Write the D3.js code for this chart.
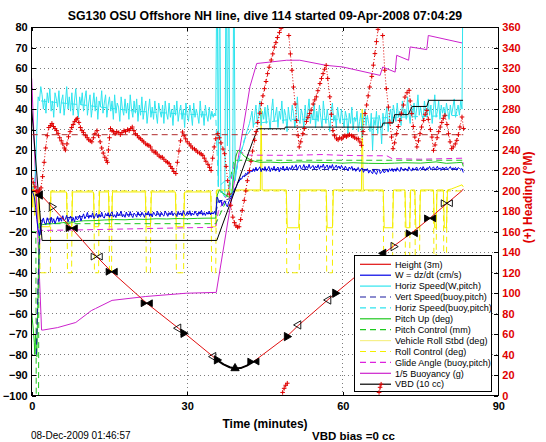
<!DOCTYPE html>
<html><head><meta charset="utf-8">
<script src="https://cdn.jsdelivr.net/npm/d3@7"></script>
<style>
body{margin:0;background:#fff}
svg{display:block}
text{font-family:"Liberation Sans",Arial,Helvetica,sans-serif}
</style>
</head><body>
<svg id="c" width="546" height="442"></svg>
<script>
// ---------------- DATA ----------------
const titleText = "SG130 OSU Offshore NH line, dive 114 started 09-Apr-2008 07:04:29";
const xLabelText = "Time (minutes)";
const rightLabelText = "(+) Heading (\u00B0M)";
const dateText = "08-Dec-2009 01:46:57";
const biasText = "VBD bias =0 cc";

const timeTicks = [0, 30, 60, 90];
const leftTicks = [-100,-90,-80,-70,-60,-50,-40,-30,-20,-10,0,10,20,30,40,50,60,70,80];
const headingTicks = [0,20,40,60,80,100,120,140,160,180,200,220,240,260,280,300,320,340,360];

const legendLabels = ["Height (3m)","W = dz/dt (cm/s)","Horiz Speed(W,pitch)","Vert Speed(buoy,pitch)",
  "Horiz Speed(buoy,pitch)","Pitch Up (deg)","Pitch Control (mm)","Vehicle Roll Stbd (deg)",
  "Roll Control (deg)","Glide Angle (buoy,pitch)","1/5 Buoyancy (g)","VBD (10 cc)"];

// sampled every 0.25 min
const sampleStep = 0.25;
const horizSpeedW = [
 2,1,3,10,30,46,44,51,47,40,45,38,48,43,50,39,44,36,48,45,
 41,49,38,44,47,37,43,51,40,46,39,48,37,44,50,41,36,46,42,48,
 39,45,49,37,43,47,36,42,48,39,46,35,44,41,49,38,43,47,36,42,
 46,39,44,35,47,38,43,41,34,46,40,37,45,38,43,35,47,40,36,44,
 38,45,34,42,37,46,35,40,44,33,39,45,36,41,35,44,38,33,43,39,
 36,42,33,44,38,35,43,36,40,32,42,37,44,34,39,42,35,40,31,43,
 37,34,42,38,32,43,36,40,37,33,44,36,39,32,42,37,34,41,35,39,
 36,38,37,120,2,120,-1,0,-2,-3,120,22,120,-2,-3,0,120,5,10,14,
 16,18,20,22,24,27,29,31,33,36,39,31,37,42,33,38,44,32,39,35,
 41,33,42,36,30,39,45,34,37,41,31,39,35,44,33,40,37,29,41,35,
 34,42,38,31,37,46,35,33,40,37,30,42,34,39,45,33,38,35,43,31,
 39,34,42,36,31,44,37,33,40,35,29,39,43,34,37,31,41,36,33,40,
 35,31,39,36,28,38,33,41,30,36,34,39,29,34,38,26,35,40,32,37,
 33,29,38,20,35,32,39,28,37,34,23,38,32,36,41,29,37,40,33,42,
 38,34,43,36,39,32,44,37,40,35,46,38,33,42,37,43,35,40,47,37,
 41,37,35,44,39,36,45,37,42,33,40,47,36,39,44,35,42,38,41,36,
 43,39,35,42,37,41,45,36,39,42,37,44,40,130];

const wSpeed = [
 0,-1,-3,-8,-14,-19,-22,-17,-15.5,-13.2,-15.8,-16.4,-13.1,-14.9,-16.2,-12.8,-15.5,-13.6,-16,-14.2,
 -12.5,-15,-13.2,-14.8,-12.1,-14.6,-13.8,-11.9,-15.1,-13.4,-12.3,-14.9,-13,-15.2,-12.4,-14.1,-13.6,-11.8,-14.7,-12.9,
 -11.2,-13.6,-12.4,-10.5,-13.4,-11.8,-12.9,-10.7,-13.5,-12.1,-10.9,-13.2,-11.4,-12.8,-10.4,-12.6,-13.3,-11,-12.2,-10.6,
 -12.9,-11.1,-10.2,-12.8,-11.6,-13,-10.4,-12.2,-11.3,-9.9,-12.7,-11.5,-12.9,-10.3,-11.8,-12.6,-10.1,-11.9,-13,-10.8,
 -11.6,-12.8,-10.2,-11.9,-12.5,-10.4,-11.3,-12.9,-10.7,-11.8,-10,-12.4,-11.2,-12.7,-10.3,-11.6,-12.2,-9.9,-11.5,-12.6,
 -10.4,-11.7,-12.3,-9.8,-11.2,-12.4,-10.6,-11.5,-9.9,-12.1,-10.8,-11.3,-12.5,-10,-11.6,-10.7,-12.2,-9.6,-11.4,-12,
 -10.2,-11.5,-9.7,-12.1,-10.9,-11.8,-9.8,-11.2,-12.3,-10.1,-11,-9.5,-11.9,-10.6,-12,-10.3,-11.4,-9.9,-11.7,-10.5,
 -11.3,-10,-11.6,-3,-4.2,-5.8,-4.5,-7.2,-6.1,-4.8,-6.6,-7.8,-5.4,-4.1,-3.2,-1.6,-0.8,1.2,2.3,4.1,
 4.6,6.2,5.8,7.4,7,8.6,8.1,9.4,8.7,10.2,9.3,10.9,9.5,11.6,9.8,10.7,11.8,9.4,11.2,10.1,
 11.9,9.6,10.8,12,9.4,11.3,10.2,12.1,9.7,10.9,11.7,9.3,11.4,10.5,12.2,9.8,10.6,11.9,10.1,11.5,
 10.3,12.4,10.9,11.5,12.8,10.2,11.9,12.6,10.6,11.3,12.9,10.8,12.2,11,13,10.9,11.7,12.5,10.7,12.1,
 11.2,12.8,10.6,12.3,11.5,13.1,10.9,11.8,12.7,10.5,12.4,11.1,12.9,10.8,11.6,12.6,11,12.2,10.7,12.5,
 11.3,10.4,12.1,11,9.8,11.7,10.6,12,10.1,11.2,9.6,10.9,11.5,9.4,10.7,11.2,9.1,10.5,9.8,10.9,
 8.7,10.2,9.3,8.4,10.5,9,8.1,9.9,10.6,8.5,9.4,10.3,8.8,9.6,10.7,9.2,10.9,9.7,11,9.4,
 10.8,9.6,11.4,10.2,9.5,11.6,10.3,9.9,11.1,10.5,9.7,11.8,10.4,9.8,11.3,10.1,10.9,11.7,9.9,10.6,
 11.5,10.2,11.9,10.6,9.9,11.4,10.8,12,10.3,11.1,11.8,10.4,10.9,12.1,10.5,11.3,10.1,11.7,10.8,11.2,
 11.6,10.3,11.1,11.9,10.4,11.3,10.8,11.5,10.2,11.4,11,10.6,10.9,9];

// [minutes, value] vertex lists
const heightPts = [[0,0.5],[1.2,0],[1.6,-1.5],[3.9,-7.7],[7.7,-18.2],[12.5,-32],[15.4,-39.5],[22.2,-54.9],
  [28.3,-67.1],[35,-81],[35.7,-82.6],[37,-84.8],[38.2,-86.2],[39.2,-86.8],[40.3,-86.6],[41.5,-85.4],[42.8,-83.4],
  [49.2,-71.2],[51.4,-65.8],[58.5,-50.2],[67.8,-30.6],[69.8,-27],[73.3,-20.5],[76.8,-13.3],[80.1,-6.1],[83,0.1],[83.25,1]];
const apogeePts = [[35.7,-82.6],[37,-84.8],[38.2,-86.2],[39.2,-86.8],[40.3,-86.6],[41.5,-85.4],[42.8,-83.4]];

// GC markers on the height trace: [minutes, value, shape, filled]
const gcMarkers = [[1.6,-2.0,"L",1],[3.86,-7.7,"R",0],[7.72,-18.2,"B",1],[12.54,-32.1,"B",0],[15.43,-39.5,"B",1],
  [22.19,-54.9,"B",1],[28.29,-67.1,"L",0],[29.25,-69.6,"R",1],[35.04,-81.0,"L",0],[35.69,-82.6,"R",1],
  [39.22,-86.7,"U",1],[42.76,-83.4,"B",1],[49.2,-71.2,"R",1],[51.44,-65.5,"L",0],[57.23,-53.3,"L",0],
  [58.52,-50.0,"R",1],[67.84,-30.5,"L",1],[69.77,-27.2,"R",0],[73.32,-20.7,"B",1],[76.85,-13.4,"B",1],[80.07,-6.0,"B",0]];

const vertSpeedBuoy = [[0.9,-80],[1.2,-50],[1.5,-25],[1.8,-15],[2,-14],[10,-12.5],[20,-11.5],[35.5,-11],[36,-5],[38,-4],[39,0],[40,5],[42,9],[43,10.5],[83.25,10.5]];
const horizSpeedBuoy = [[1.8,44],[10,42],[20,39],[30,37.5],[35.5,37],[36,2],[39.5,10],[41,25],[43,33],[50,35],[60,35],[70,36],[83,37]];

const pitchUp = [[0,-60],[0.25,-66],[0.5,-74],[0.6,-80],[0.75,-70],[0.9,-78],[1.0,-81],[1.1,-65],[1.3,-40],[1.5,-22],
  [1.75,-17],[2,-16.5],[3,-16.2],[4,-16],[5,-15.8],[6,-15.5],[7,-15.2],[8,-15.3],[9,-14.8],[10,-14.6],[12,-14.5],
  [14,-14.2],[16,-14],[18,-14.1],[20,-13.8],[22,-13.9],[24,-13.6],[26,-13.7],[28,-13.5],[30,-13.6],[32,-13.4],
  [34,-13.3],[35.5,-13.3],[35.8,-2],[36.2,0.5],[36.8,-1],[37.4,-2],[38,-3],[38.6,-1],[39,8],[39.4,17],[39.8,20],
  [40.3,19],[41,17],[42,15.5],[43,14.5],[44,14],[46,14.1],[48,13.8],[50,14],[52,14.2],[55,14],[58,13.8],[60,13.6],
  [62,13.8],[65,13.5],[68,13.4],[70,13.6],[72,13.8],[75,13.6],[78,14.2],[80,13.5],[82,13.8],[83,14],[83.25,12]];
const pitchControl = [[0,-20],[0.8,-20],[0.9,-130],[1.3,-130],[1.4,-16],[35.5,-16],[37.5,-5],[39,15],[83.25,15]];

const rollStbd = [[0,4],[0.2,-8],[0.4,3],[0.6,-12],[0.8,0],[1.0,-6],[1.2,-16],[1.4,-2],[1.6,-17.5],[3.5,-17.5],
  [3.7,-0.5],[6.7,-0.5],[6.9,-17.5],[7.7,-17.5],[7.9,-0.5],[11.9,-0.5],[12.1,-17.5],[12.9,-17.5],[13.1,-0.5],
  [14.8,-0.5],[15,-17.5],[15.4,-17.5],[15.6,-0.5],[21.9,-0.5],[22.1,-17.5],[22.9,-17.5],[23.1,-0.5],[27.7,-0.5],
  [27.9,-17.5],[29.3,-17.5],[29.5,-0.5],[34.5,-0.5],[34.7,-17.5],[35.5,-17.5],[35.7,0.5],[44.1,0.5],[44.25,40],
  [44.45,0.5],[49.1,0.5],[49.3,-18],[51.5,-18],[51.7,0.5],[56.8,0.5],[57,-18],[58,-18],[58.2,0.5],[63.6,0.5],
  [63.75,40],[63.95,0.5],[67.8,0.5],[68,-18],[69.6,-18],[69.8,0.5],[72,0.5],[72.2,-18],[72.9,-18],[73.1,0.5],
  [73.9,0.5],[74.1,-18],[74.8,-18],[75,0.5],[77.5,0.5],[77.7,-18],[78,-18],[78.2,0.5],[79.4,0.5],[79.6,-18],
  [80,-18],[80.2,0.5],[81,1],[82,2],[83,3],[83.25,2]];
const rollControl = [[0,0],[1.5,0],[1.6,-40],[3.6,-40],[3.7,0],[6.8,0],[6.9,-40],[7.7,-40],[7.8,0],[12,0],[12.1,-40],
  [12.9,-40],[13,0],[14.9,0],[15,-40],[15.4,-40],[15.5,0],[22,0],[22.1,-40],[22.9,-40],[23,0],[27.8,0],[27.9,-40],
  [29.3,-40],[29.4,0],[34.6,0],[34.7,-40],[35.5,-40],[35.6,0],[49.1,0],[49.2,-40],[51.6,-40],[51.7,0],[56.8,0],
  [56.9,-40],[58,-40],[58.1,0],[67.8,0],[67.9,-40],[69.6,-40],[69.7,0],[72,0],[72.1,-40],[72.9,-40],[73,0],[73.9,0],
  [74,-40],[74.8,-40],[74.9,0],[77.5,0],[77.6,-40],[78,-40],[78.1,0],[79.4,0],[79.5,-40],[80,-40],[80.1,0],[83.25,0]];

const glideAngle = [[0.9,-80],[1.1,-55],[1.4,-30],[1.7,-20],[2,-19.3],[10,-19],[20,-18.5],[30,-18],[35.5,-17.8],
  [36,-10],[37,-5],[38,0],[39,12],[39.5,19],[40,20],[41,18],[42,17.5],[50,17.4],[56,17.8],[60,17.4],[65,17.2],
  [68.5,17.2],[69.5,15.8],[75,15.5],[80,15.8],[83,16],[83.25,13]];
const buoyancy = [[0,55],[1.9,-68],[2.2,-68],[5,-66.8],[8.5,-64.3],[11.5,-58.5],[12.3,-57.5],[15.5,-53.5],[22,-51.6],
  [29.8,-50],[35.6,-49.6],[42.1,51],[43.4,62.3],[49.2,63.9],[51.7,63.9],[56.8,61.4],[60,60.6],[67.2,56.5],[67.7,60.6],
  [70.1,58.1],[70.4,66.3],[72.7,63.9],[73,70.4],[76.2,69.1],[76.5,76],[83.1,72.3]];
const vbd = [[0,40],[1.9,-21],[2,-24.2],[35.7,-24.2],[42.6,24],[43.6,30.4],[48.8,30.4],[48.9,31.2],[67.5,31.2],
  [67.8,33.2],[69.7,33.2],[70,37.3],[72.6,37.3],[73.4,41.3],[76.2,41.3],[76.6,44.3],[83.2,44.3]];

// heading (degrees magnetic), right axis
const heading = [[0,212],[0.3,208],[0.6,204],[0.9,200],[1.2,199],[1.5,201],[1.8,203],[2.1,214],[2.4,228],[2.7,242],
 [3.0,254],[3.3,262],[3.6,264],[3.9,266],[4.2,263],[4.5,261],[4.8,259],[5.1,256],[5.4,252],[5.7,249],[6.0,246],
 [6.3,242],[6.5,240],[6.8,246],[7.1,253],[7.4,258],[7.7,262],[8.0,265],[8.3,268],[8.6,270],[8.8,271],[9.1,267],
 [9.4,262],[9.7,259],[10.0,257],[10.4,254],[10.7,252],[11.0,250],[11.3,249],[11.6,248],[11.9,252],[12.2,256],
 [12.6,259],[12.9,254],[13.2,248],[13.5,242],[13.8,237],[14.1,233],[14.4,230],[14.6,228],[14.8,240],[15.0,252],
 [15.2,261],[15.5,259],[15.8,258],[16.1,256],[16.4,258],[16.8,257],[17.1,255],[17.4,257],[17.8,259],[18.1,258],
 [18.5,260],[18.8,259],[19.1,261],[19.4,262.5],[19.7,259],[20.0,256],[20.4,254],[20.7,252],[21.0,251],[21.3,249.5],
 [21.6,248],[22.0,246],[22.3,245],[22.6,244.6],[22.9,243],[23.2,240],[23.6,238],[23.9,238],[24.2,236],[24.6,234],
 [24.9,233],[25.2,233],[25.5,231],[25.9,229],[26.2,228],[26.5,226.7],[26.8,224],[27.1,222],[27.4,219],[27.8,217],
 [28.1,228],[28.4,239],[28.7,249],[29.1,257.6],[29.4,254],[29.7,251],[30.0,248],[30.4,246],[30.7,244],[31.0,242],
 [31.4,241],[31.7,239.7],[32.0,238],[32.4,237],[32.7,236],[33.0,234.8],[33.3,232],[33.6,229],[34.0,226],[34.3,223],
 [34.6,220],[34.9,232],[35.2,243],[35.5,251],[35.9,256],[36.2,252],[36.5,247],[36.9,241],[37.2,236.4],[37.5,224],
 [37.8,210],[38.1,197],[38.4,186],[38.8,174.4],[39.1,169],[39.4,166],[39.7,164.6],[40.0,165],[40.3,172],[40.6,181],
 [41.0,190.8],[41.3,200],[41.6,210],[42.0,220],[42.3,229],[42.6,239],[43.0,249.5],[43.3,258],[43.6,267],[44.0,276],
 [44.3,285.4],[44.6,293],[44.9,300],[45.2,307],[45.5,314.7],[45.8,321],[46.2,328],[46.5,334],[46.8,340.7],[47.1,345],
 [47.4,350],[47.8,355],[48.1,359],[48.4,3],[48.7,7],[49.0,10],[49.3,12],[49.6,352],[49.9,334],[50.2,318],[50.5,301.6],
 [50.8,285],[51.1,269],[51.4,254],[51.6,243],[51.9,248],[52.3,256],[52.6,261],[53.0,268],[53.3,272],[53.6,275.6],
 [53.9,279],[54.3,285],[54.6,289],[54.9,292],[55.2,298],[55.6,305],[55.9,310],[56.2,314.7],[56.5,319],[56.8,322.8],
 [57.1,310],[57.5,292],[57.8,275],[58.1,259],[58.4,254],[58.8,251],[59.1,250],[59.4,252],[59.8,251],[60.1,252.7],
 [60.4,254],[60.7,253],[61.0,254.3],[61.3,255],[61.7,254],[62.0,253.4],[62.3,252],[62.7,251],[63.0,251],[63.3,248],
 [63.6,244.6],[63.9,258],[64.3,275.6],[64.6,284],[64.9,293],[65.2,301.6],[65.6,312],[65.9,323],[66.2,334.3],
 [66.5,346],[66.8,358],[67.0,3],[67.2,8],[67.4,11],[67.7,352],[68.1,318],[68.4,300],[68.8,282],[69.1,267],
 [69.4,252.7],[69.7,241.3],[70.0,247],[70.4,256],[70.7,263],[71.0,269],[71.3,276],[71.7,284],[72.0,291.8],[72.4,296],
 [72.8,298.4],[73.0,288],[73.3,275.6],[73.6,263],[73.9,252.7],[74.3,243],[74.6,249],[74.9,256],[75.2,262.5],
 [75.6,269],[75.9,275],[76.2,278.8],[76.5,270],[76.9,260],[77.2,252.7],[77.5,239.7],[77.8,245],[78.2,252],[78.5,258],
 [78.8,262.5],[79.1,267],[79.4,271],[79.7,274],[80.1,265],[80.4,256],[80.7,248],[81.0,241.3],[81.3,243],[81.7,246],
 [82.0,249.5],[82.3,255],[82.6,262.5],[83.0,272.3],[83.3,261]];
const headingTarget = [[0,255],[83.25,255]];

// ---------------- DRAW ----------------
const svg = d3.select("#c");
const x = d3.scaleLinear().domain([0, 90]).range([31.7, 498.3]);
const y = d3.scaleLinear().domain([-100, 80]).range([395.5, 27.3]);
const yR = d3.scaleLinear().domain([0, 360]).range([395.5, 27.3]);
const X0 = x(0), X1 = x(90), Y0 = y(80), Y1 = y(-100);

svg.append("rect").attr("width",546).attr("height",442).attr("fill","#fff");
svg.append("defs").append("clipPath").attr("id","clip").append("rect")
  .attr("x",X0).attr("y",Y0).attr("width",X1-X0).attr("height",Y1-Y0);

// grid
const grid = svg.append("g").attr("stroke","#444").attr("stroke-width",0.7)
  .attr("stroke-dasharray","1,3").attr("shape-rendering","crispEdges");
leftTicks.filter(v => v > -100 && v < 80).forEach(v =>
  grid.append("line").attr("x1",X0).attr("x2",X1).attr("y1",y(v)).attr("y2",y(v)));
timeTicks.filter(t => t > 0 && t < 90).forEach(t =>
  grid.append("line").attr("x1",x(t)).attr("x2",x(t)).attr("y1",Y0).attr("y2",Y1));

const plot = svg.append("g").attr("clip-path","url(#clip)");
const line = d3.line().x(d => x(d[0])).y(d => y(d[1]));
const sampled = arr => arr.map((v,i) => [i*sampleStep, v]);

const colors = {
  height:"#e01010", w:"#0000e6", hs:"#2fe4ee", vsb:"#1a1aa0", hsb:"#2fe4ee",
  pitch:"#1ec81e", pitchc:"#1ec81e", roll:"#f4ee00", rollc:"#f4ee00",
  glide:"#dd22dd", buoy:"#cc22cc", vbd:"#000000"
};
function draw(data, color, dash, width) {
  plot.append("path").datum(data).attr("d", line).attr("fill","none")
    .attr("stroke", color).attr("stroke-width", width || 1)
    .attr("stroke-dasharray", dash || null).attr("stroke-linejoin","round");
}
draw(rollStbd, colors.roll);
draw(rollControl, colors.rollc, "6,4");
draw(buoyancy, colors.buoy);
draw(glideAngle, colors.glide, "6,4");
draw(pitchControl, colors.pitchc, "6,4");
draw(horizSpeedBuoy, colors.hsb, "6,4");
draw(sampled(horizSpeedW), colors.hs);
draw(pitchUp, colors.pitch);
draw(vertSpeedBuoy, colors.vsb, "6,4");
draw(sampled(wSpeed), colors.w);
draw(vbd, colors.vbd);
draw(heightPts, colors.height);
draw(apogeePts, "#000", null, 2);

// GC markers
const triBig = d3.symbol().type(d3.symbolTriangle).size(30);
const triSmall = d3.symbol().type(d3.symbolTriangle).size(20);
const mk = plot.append("g");
gcMarkers.forEach(m => {
  const px = x(m[0]), py = y(m[1]);
  const fill = m[3] ? "#000" : "none";
  // bowtie: two triangles whose tips meet at the centre
  const parts = m[2] === "B" ? [["R",-3.6,triSmall],["L",3.6,triSmall]] : [[m[2],0,triBig]];
  parts.forEach(p => {
    const rot = p[0] === "L" ? -90 : p[0] === "R" ? 90 : 0;
    mk.append("path").attr("d", p[2]())
      .attr("transform", `translate(${px + p[1]},${py}) rotate(${rot})`)
      .attr("fill", fill).attr("stroke","#000").attr("stroke-width",0.9);
  });
});

// axes box
svg.append("rect").attr("x",X0).attr("y",Y0).attr("width",X1-X0).attr("height",Y1-Y0)
  .attr("fill","none").attr("stroke","#000").attr("stroke-width",1).attr("shape-rendering","crispEdges");

const fmt = d => d < 0 ? "\u2212" + Math.abs(d) : String(d);
const styleAxis = (g, color) => {
  g.select(".domain").remove();
  g.selectAll(".tick line").attr("stroke","#000").attr("shape-rendering","crispEdges");
  g.selectAll(".tick text").attr("fill", color || "#000").attr("font-size", 11)
    .attr("font-weight","bold").attr("font-family",'"Liberation Sans",Arial,sans-serif');
};
svg.append("g").attr("transform",`translate(${X0},0)`)
  .call(d3.axisLeft(y).tickValues(leftTicks).tickFormat(fmt).tickSize(-4).tickPadding(4))
  .call(g => styleAxis(g));
svg.append("g").attr("transform",`translate(${X1},0)`)
  .call(d3.axisRight(yR).tickValues(headingTicks).tickSize(-4).tickPadding(4))
  .call(g => styleAxis(g, "#e00000"));
svg.append("g").attr("transform",`translate(0,${Y1})`)
  .call(d3.axisBottom(x).tickValues(timeTicks).tickSize(-4).tickPadding(7))
  .call(g => styleAxis(g));
svg.append("g").attr("transform",`translate(0,${Y0})`)
  .call(d3.axisTop(x).tickValues(timeTicks).tickFormat("").tickSize(-4))
  .call(g => styleAxis(g));

// legend
const legendStyles = [
  [colors.height,null],[colors.w,null],[colors.hs,null],[colors.vsb,"6,4"],[colors.hsb,"6,4"],
  [colors.pitch,null],[colors.pitchc,"6,4"],["#f6f08a",null],[colors.rollc,"6,4"],[colors.glide,"6,4"],
  [colors.buoy,null],[colors.vbd,null]];
const lg = svg.append("g");
lg.append("rect").attr("x",354.5).attr("y",255.5).attr("width",137).attr("height",136)
  .attr("fill","#fff").attr("stroke","#000").attr("stroke-width",1);
legendLabels.forEach((lab,i) => {
  const ly = 264.3 + i*10.9;
  lg.append("line").attr("x1",360).attr("x2",391).attr("y1",ly).attr("y2",ly)
    .attr("stroke",legendStyles[i][0]).attr("stroke-width",1.2)
    .attr("stroke-dasharray",legendStyles[i][1]);
  lg.append("text").attr("x",395).attr("y",ly+3.2).attr("font-size",9.1).attr("fill","#000").text(lab);
});

// heading (right axis) on top
const hplot = svg.append("g").attr("clip-path","url(#clip)");
hplot.append("path").datum(headingTarget)
  .attr("d", d3.line().x(d => x(d[0])).y(d => yR(d[1])))
  .attr("fill","none").attr("stroke","#b02a2a").attr("stroke-width",1).attr("stroke-dasharray","6,4");
const segs = [];
heading.forEach((d,i) => {
  if (i === 0 || Math.abs(d[1] - heading[i-1][1]) > 180) segs.push([]);
  segs[segs.length-1].push(d);
});
segs.forEach(s => hplot.append("path").datum(s)
  .attr("d", d3.line().x(d => x(d[0])).y(d => yR(d[1])))
  .attr("fill","none").attr("stroke","#e00000").attr("stroke-width",1).attr("stroke-dasharray","1,2"));
hplot.selectAll("path.plus").data(heading).enter().append("path")
  .attr("class","plus")
  .attr("d","M-2.3,0H2.3M0,-2.3V2.3")
  .attr("transform", d => `translate(${x(d[0])},${yR(d[1])})`)
  .attr("stroke","#e00000").attr("stroke-width",1).attr("fill","none");

// texts
svg.append("text").attr("x",(X0+X1)/2).attr("y",20).attr("text-anchor","middle")
  .attr("font-size",12.3).attr("font-weight","bold").text(titleText);
svg.append("text").attr("x",(X0+X1)/2).attr("y",428).attr("text-anchor","middle")
  .attr("font-size",12).attr("font-weight","bold").text(xLabelText);
svg.append("text").attr("x",31).attr("y",439).attr("font-size",10).text(dateText);
svg.append("text").attr("x",312).attr("y",440).attr("font-size",11.5).attr("font-weight","bold").text(biasText);
svg.append("text").attr("transform",`translate(532,${(Y0+Y1)/2 - 14}) rotate(-90)`).attr("text-anchor","middle")
  .attr("font-size",12).attr("font-weight","bold").attr("fill","#e00000").text(rightLabelText);
</script>
</body></html>
